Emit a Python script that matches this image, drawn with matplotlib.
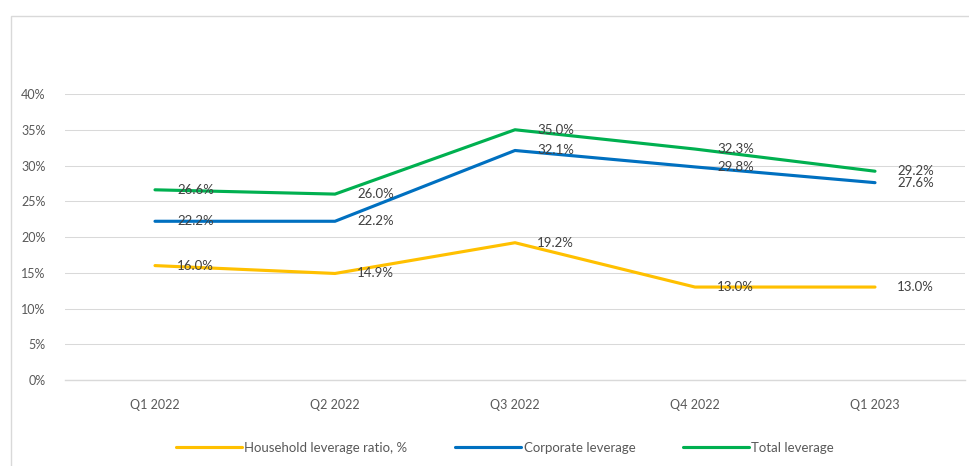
import matplotlib
matplotlib.use("Agg")
import matplotlib.pyplot as plt
from matplotlib.patches import Rectangle
from matplotlib.ticker import FuncFormatter, MultipleLocator

plt.rcParams["font.family"] = ["Lato", "DejaVu Sans"]

# Data
categories = ["Q1 2022", "Q2 2022", "Q3 2022", "Q4 2022", "Q1 2023"]
series_names = ["Household leverage ratio, %", "Corporate leverage", "Total leverage"]
household = [16.0, 14.9, 19.2, 13.0, 13.0]
corporate = [22.2, 22.2, 32.1, 29.8, 27.6]
total = [26.6, 26.0, 35.0, 32.3, 29.2]
y_max = 40
y_step = 5

colors = ["#FFC000", "#0070C0", "#00B050"]
text_color = "#595959"
grid_color = "#D9D9D9"

W, H = 970, 466
fig = plt.figure(figsize=(W / 100, H / 100), dpi=100)

# chart-area frame (top and left edges)
fig.patches.append(Rectangle((11 / W, -0.1), 1.2, (H - 16) / H + 0.1,
                             transform=fig.transFigure, fill=False,
                             edgecolor=grid_color, linewidth=1.0))

ax = fig.add_axes([65 / W, (H - 380) / H, 900 / W, (380 - 94) / H])
x = list(range(len(categories)))

for vals, name, col in zip([household, corporate, total], series_names, colors):
    ax.plot(x, vals, color=col, linewidth=2.25, label=name,
            solid_capstyle="round", solid_joinstyle="round", zorder=3)
    for xi, v in zip(x, vals):
        ax.annotate(f"{v:.1f}%", (xi, v), xytext=(16, 0),
                    textcoords="offset points", ha="left", va="center",
                    fontsize=9.5, color="#404040", zorder=4)

ax.set_xlim(-0.5, len(categories) - 0.5)
ax.set_ylim(0, y_max)
ax.yaxis.set_major_locator(MultipleLocator(y_step))
ax.yaxis.set_major_formatter(FuncFormatter(lambda v, _: f"{v:.0f}%"))
ax.set_xticks(x)
ax.set_xticklabels(categories)

ax.grid(axis="y", color=grid_color, linewidth=0.75, zorder=0)
ax.set_axisbelow(True)
for side in ["top", "right", "left"]:
    ax.spines[side].set_visible(False)
ax.spines["bottom"].set_color(grid_color)
ax.spines["bottom"].set_linewidth(1.0)

ax.tick_params(axis="both", length=0, labelsize=9, labelcolor=text_color)
ax.tick_params(axis="x", pad=14)
ax.tick_params(axis="y", pad=14)

leg = fig.legend(loc="center", bbox_to_anchor=(505 / W, (H - 448) / H),
                 ncol=3, frameon=False, fontsize=9.5, handlelength=5.0,
                 handletextpad=0.2, columnspacing=3.6)
for t in leg.get_texts():
    t.set_color(text_color)

fig.savefig("out.png", dpi=100, facecolor="white")
